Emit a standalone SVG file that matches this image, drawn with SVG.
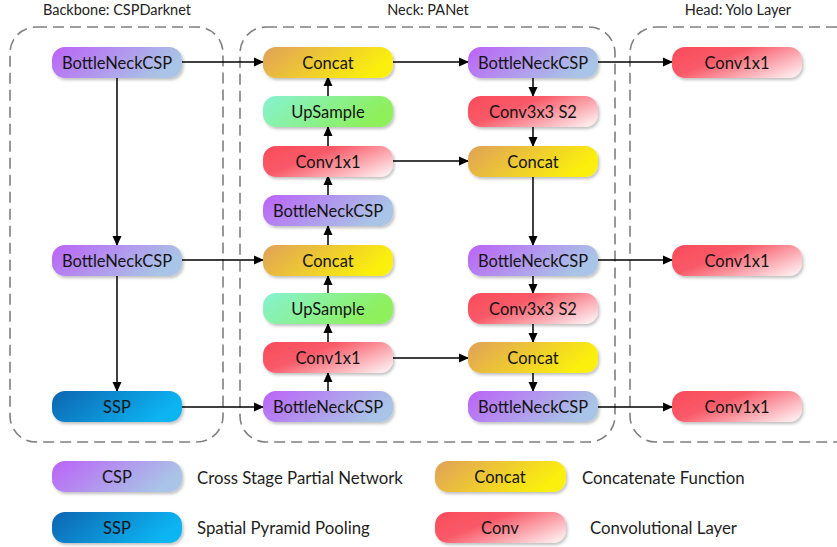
<svg xmlns="http://www.w3.org/2000/svg" width="837" height="547" viewBox="0 0 837 547">
<defs>
<linearGradient id="gCsp" x1="0" y1="0" x2="1" y2="0.3"><stop offset="0" stop-color="#bb62f7"/><stop offset="1" stop-color="#a9c4e6"/></linearGradient>
<linearGradient id="gCat" x1="0" y1="0" x2="1" y2="0.3"><stop offset="0" stop-color="#e0a05a"/><stop offset="1" stop-color="#fbf00c"/></linearGradient>
<linearGradient id="gUp" x1="0" y1="0" x2="1" y2="0.3"><stop offset="0" stop-color="#86f2d2"/><stop offset="1" stop-color="#8ef05a"/></linearGradient>
<linearGradient id="gConv" x1="0" y1="0.2" x2="1" y2="0.8"><stop offset="0" stop-color="#f94e5e"/><stop offset="0.35" stop-color="#f95a68"/><stop offset="1" stop-color="#fde8ea"/></linearGradient>
<linearGradient id="gSsp" x1="0" y1="0" x2="1" y2="0.3"><stop offset="0" stop-color="#0b64b0"/><stop offset="1" stop-color="#0cb4f2"/></linearGradient>
<filter id="sh" x="-10%" y="-20%" width="125%" height="150%"><feDropShadow dx="1.5" dy="2" stdDeviation="1.5" flood-color="#000" flood-opacity="0.25"/></filter>
<marker id="ah" markerWidth="10" markerHeight="10" refX="9" refY="5" orient="auto" markerUnits="userSpaceOnUse"><path d="M0,0.5 L10,5 L0,9.5 Z" fill="#000"/></marker>
</defs>
<style>
.box{fill:none;stroke:#7f7f7f;stroke-width:1.6;stroke-dasharray:11 6}
.n rect{filter:url(#sh)}
.t{font-family:Lato,"Open Sans","Liberation Sans",sans-serif;font-size:16.5px;fill:#141414;text-anchor:middle;dominant-baseline:central}
.h{font-family:Lato,"Open Sans","Liberation Sans",sans-serif;font-size:14.5px;fill:#222;text-anchor:middle}
.l{font-family:Lato,"Open Sans","Liberation Sans",sans-serif;font-size:16.8px;fill:#1e1e1e;dominant-baseline:central}
.c line{stroke:#000;stroke-width:1.5;marker-end:url(#ah)}
</style>
<rect width="837" height="547" fill="#fff"/>
<g id="groups">
<rect class="box" x="10" y="27" width="213" height="415" rx="26"/>
<rect class="box" x="240" y="27" width="375" height="415" rx="26"/>
<rect class="box" x="630" y="27" width="230" height="415" rx="26"/>
<text class="h" x="117" y="15">Backbone: CSPDarknet</text>
<text class="h" x="428" y="15">Neck: PANet</text>
<text class="h" x="738" y="15">Head: Yolo Layer</text>
</g>
<g id="connectors" class="c">
<line x1="182" y1="62" x2="263" y2="62"/>
<line x1="117" y1="78" x2="117" y2="245"/>
<line x1="182" y1="260" x2="263" y2="260"/>
<line x1="117" y1="276" x2="117" y2="391"/>
<line x1="182" y1="407" x2="263" y2="407"/>
<line x1="328" y1="391" x2="328" y2="373"/>
<line x1="328" y1="342" x2="328" y2="324"/>
<line x1="328" y1="293" x2="328" y2="276"/>
<line x1="328" y1="245" x2="328" y2="226"/>
<line x1="328" y1="195" x2="328" y2="176"/>
<line x1="328" y1="146" x2="328" y2="127"/>
<line x1="328" y1="96" x2="328" y2="77"/>
<line x1="393" y1="62" x2="468" y2="62"/>
<line x1="533" y1="77" x2="533" y2="96"/>
<line x1="533" y1="127" x2="533" y2="146"/>
<line x1="393" y1="161" x2="468" y2="161"/>
<line x1="533" y1="176" x2="533" y2="245"/>
<line x1="393" y1="358" x2="468" y2="358"/>
<line x1="533" y1="276" x2="533" y2="293"/>
<line x1="533" y1="324" x2="533" y2="342"/>
<line x1="533" y1="373" x2="533" y2="391"/>
<line x1="598" y1="62" x2="672" y2="62"/>
<line x1="598" y1="260" x2="672" y2="260"/>
<line x1="598" y1="407" x2="672" y2="407"/>
</g>
<g id="bb1" class="n"><rect x="52" y="47" width="130" height="31" rx="13" fill="url(#gCsp)"/><text class="t" x="117" y="62.5">BottleNeckCSP</text></g>
<g id="bb2" class="n"><rect x="52" y="245" width="130" height="31" rx="13" fill="url(#gCsp)"/><text class="t" x="117" y="260.5">BottleNeckCSP</text></g>
<g id="ssp" class="n"><rect x="52" y="391" width="130" height="31" rx="13" fill="url(#gSsp)"/><text class="t" x="117" y="406.5">SSP</text></g>
<g id="n_concat1" class="n"><rect x="263" y="47" width="130" height="31" rx="13" fill="url(#gCat)"/><text class="t" x="328" y="62.5">Concat</text></g>
<g id="n_up1" class="n"><rect x="263" y="96" width="130" height="31" rx="13" fill="url(#gUp)"/><text class="t" x="328" y="111.5">UpSample</text></g>
<g id="n_conv1" class="n"><rect x="263" y="146" width="130" height="31" rx="13" fill="url(#gConv)"/><text class="t" x="328" y="161.5">Conv1x1</text></g>
<g id="n_csp1" class="n"><rect x="263" y="195" width="130" height="31" rx="13" fill="url(#gCsp)"/><text class="t" x="328" y="210.5">BottleNeckCSP</text></g>
<g id="n_concat2" class="n"><rect x="263" y="245" width="130" height="31" rx="13" fill="url(#gCat)"/><text class="t" x="328" y="260.5">Concat</text></g>
<g id="n_up2" class="n"><rect x="263" y="293" width="130" height="31" rx="13" fill="url(#gUp)"/><text class="t" x="328" y="308.5">UpSample</text></g>
<g id="n_conv2" class="n"><rect x="263" y="342" width="130" height="31" rx="13" fill="url(#gConv)"/><text class="t" x="328" y="357.5">Conv1x1</text></g>
<g id="n_csp2" class="n"><rect x="263" y="391" width="130" height="31" rx="13" fill="url(#gCsp)"/><text class="t" x="328" y="406.5">BottleNeckCSP</text></g>
<g id="p_csp1" class="n"><rect x="468" y="47" width="130" height="31" rx="13" fill="url(#gCsp)"/><text class="t" x="533" y="62.5">BottleNeckCSP</text></g>
<g id="p_conv1" class="n"><rect x="468" y="96" width="130" height="31" rx="13" fill="url(#gConv)"/><text class="t" x="533" y="111.5">Conv3x3 S2</text></g>
<g id="p_concat1" class="n"><rect x="468" y="146" width="130" height="31" rx="13" fill="url(#gCat)"/><text class="t" x="533" y="161.5">Concat</text></g>
<g id="p_csp2" class="n"><rect x="468" y="245" width="130" height="31" rx="13" fill="url(#gCsp)"/><text class="t" x="533" y="260.5">BottleNeckCSP</text></g>
<g id="p_conv2" class="n"><rect x="468" y="293" width="130" height="31" rx="13" fill="url(#gConv)"/><text class="t" x="533" y="308.5">Conv3x3 S2</text></g>
<g id="p_concat2" class="n"><rect x="468" y="342" width="130" height="31" rx="13" fill="url(#gCat)"/><text class="t" x="533" y="357.5">Concat</text></g>
<g id="p_csp3" class="n"><rect x="468" y="391" width="130" height="31" rx="13" fill="url(#gCsp)"/><text class="t" x="533" y="406.5">BottleNeckCSP</text></g>
<g id="h1" class="n"><rect x="672" y="47" width="130" height="31" rx="13" fill="url(#gConv)"/><text class="t" x="737" y="62.5">Conv1x1</text></g>
<g id="h2" class="n"><rect x="672" y="245" width="130" height="31" rx="13" fill="url(#gConv)"/><text class="t" x="737" y="260.5">Conv1x1</text></g>
<g id="h3" class="n"><rect x="672" y="391" width="130" height="31" rx="13" fill="url(#gConv)"/><text class="t" x="737" y="406.5">Conv1x1</text></g>
<g id="legend">
<g id="lg_csp" class="n"><rect x="52" y="461" width="130" height="31" rx="13" fill="url(#gCsp)"/><text class="t" x="117" y="476.5">CSP</text></g>
<text class="l" x="197" y="477">Cross Stage Partial Network</text>
<g id="lg_ssp" class="n"><rect x="52" y="512" width="130" height="31" rx="13" fill="url(#gSsp)"/><text class="t" x="117" y="527.5">SSP</text></g>
<text class="l" x="197" y="527">Spatial Pyramid Pooling</text>
<g id="lg_concat" class="n"><rect x="435" y="461" width="131" height="31" rx="13" fill="url(#gCat)"/><text class="t" x="500" y="476.5">Concat</text></g>
<text class="l" x="582" y="477">Concatenate Function</text>
<g id="lg_conv" class="n"><rect x="435" y="512" width="131" height="31" rx="13" fill="url(#gConv)"/><text class="t" x="500" y="527.5">Conv</text></g>
<text class="l" x="590" y="527">Convolutional Layer</text>
</g>
</svg>
